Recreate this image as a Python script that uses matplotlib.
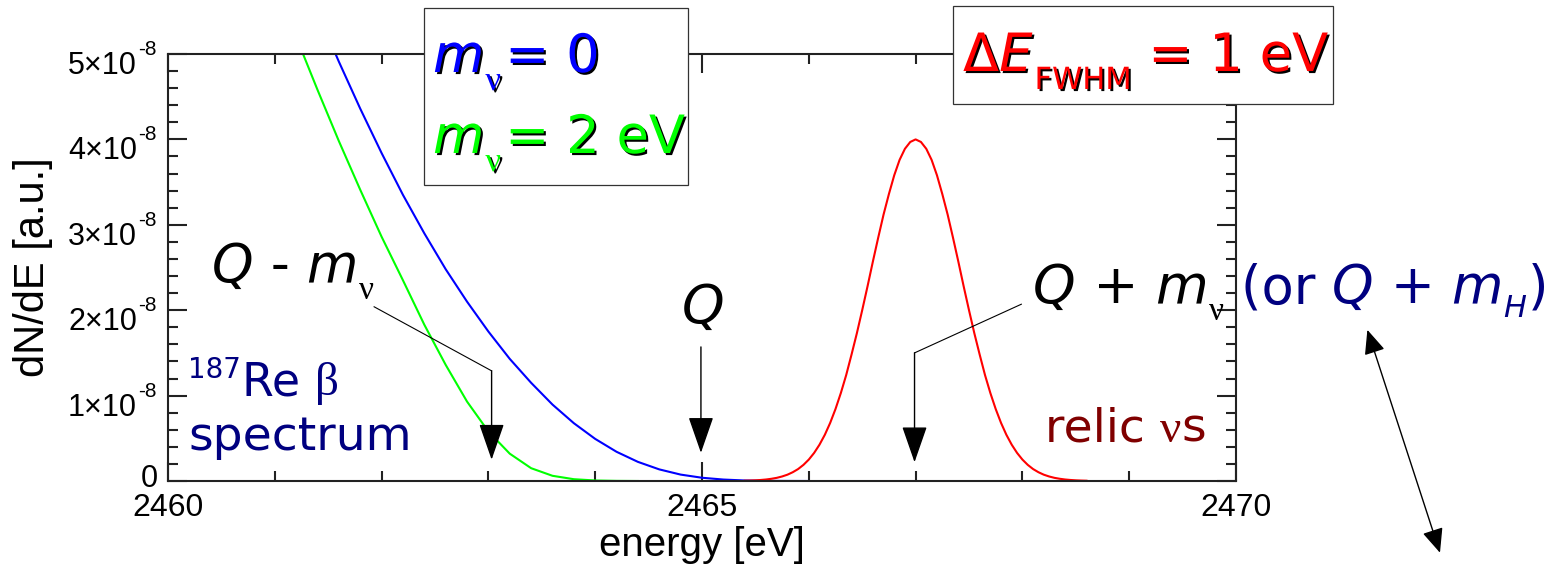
import numpy as np
import matplotlib.pyplot as plt
import matplotlib.patheffects as pe
from matplotlib.patches import Rectangle, ArrowStyle
from matplotlib.transforms import IdentityTransform

W, H = 1553, 566

# beta spectrum near the endpoint, m_nu = 0 (blue)
energy_blue = [2461.4, 2461.6, 2461.8, 2462.0, 2462.2, 2462.4, 2462.6, 2462.8,
               2463.0, 2463.2, 2463.4, 2463.6, 2463.8, 2464.0, 2464.2, 2464.4,
               2464.6, 2464.8, 2465.0, 2465.2, 2465.4, 2465.6, 2465.8, 2466.0]
dnde_blue = np.array([5.49, 4.91, 4.36, 3.84, 3.35, 2.90, 2.48, 2.10,
                      1.75, 1.43, 1.15, 0.895, 0.677, 0.493, 0.342, 0.224,
                      0.136, 0.075, 0.038, 0.017, 0.006, 0.002, 0.0006, 0.0]) * 1e-8

# m_nu = 2 eV (green)
energy_green = [2461.0, 2461.2, 2461.4, 2461.6, 2461.8, 2462.0, 2462.2, 2462.4, 2462.6,
                2462.8, 2463.0, 2463.2, 2463.4, 2463.6, 2463.8, 2464.0, 2464.2, 2464.4]
dnde_green = np.array([5.86, 5.20, 4.58, 3.98, 3.41, 2.86, 2.35, 1.83, 1.36,
                       0.93, 0.58, 0.32, 0.15, 0.061, 0.021, 0.006, 0.0015, 0.0]) * 1e-8

# relic neutrino peak (red)
energy_red = [2465.40, 2465.45, 2465.50, 2465.55, 2465.60, 2465.65, 2465.70, 2465.75,
              2465.80, 2465.85, 2465.90, 2465.95, 2466.00, 2466.05, 2466.10, 2466.15,
              2466.20, 2466.25, 2466.30, 2466.35, 2466.40, 2466.45, 2466.50, 2466.55,
              2466.60, 2466.65, 2466.70, 2466.75, 2466.80, 2466.85, 2466.90, 2466.95,
              2467.00, 2467.05, 2467.10, 2467.15, 2467.20, 2467.25, 2467.30, 2467.35,
              2467.40, 2467.45, 2467.50, 2467.55, 2467.60, 2467.65, 2467.70, 2467.75,
              2467.80, 2467.85, 2467.90, 2467.95, 2468.00, 2468.05, 2468.10, 2468.15,
              2468.20, 2468.25, 2468.30, 2468.35, 2468.40, 2468.45, 2468.50, 2468.55,
              2468.60]
dnde_red = np.array([0.0034, 0.0052, 0.0079, 0.012, 0.0176, 0.026, 0.037, 0.053,
                     0.074, 0.103, 0.140, 0.189, 0.251, 0.329, 0.425, 0.541,
                     0.68, 0.843, 1.03, 1.24, 1.48, 1.73, 2.00, 2.28,
                     2.57, 2.85, 3.12, 3.36, 3.58, 3.76, 3.89, 3.97,
                     4.00, 3.97, 3.89, 3.76, 3.58, 3.36, 3.12, 2.85,
                     2.57, 2.28, 2.00, 1.73, 1.48, 1.24, 1.03, 0.843,
                     0.68, 0.541, 0.425, 0.329, 0.251, 0.189, 0.140, 0.103,
                     0.074, 0.053, 0.037, 0.026, 0.0176, 0.012, 0.0079, 0.0052,
                     0.0034]) * 1e-8

xticks = [2460, 2465, 2470]
xminor = [2461, 2462, 2463, 2464, 2466, 2467, 2468, 2469]
yticks = [0, 1e-8, 2e-8, 3e-8, 4e-8, 5e-8]
ymant = ['0', '1×10', '2×10', '3×10', '4×10', '5×10']
yexp = ['', '-8', '-8', '-8', '-8', '-8']
yminor = [k * 0.2e-8 for k in range(26) if k % 5]

plt.rcParams['font.family'] = 'Liberation Sans'

fig = plt.figure(figsize=(W / 100, H / 100), dpi=100)
ax = fig.add_axes([168 / W, 1 - 481 / H, (1236 - 168) / W, (481 - 54) / H])

ax.plot(energy_green, dnde_green, color='#00ff00', lw=1.5)
ax.plot(energy_blue, dnde_blue, color='#0000ff', lw=1.5)
ax.plot(energy_red, dnde_red, color='#ff0000', lw=1.5)

ax.set_xlim(2460, 2470)
ax.set_ylim(0, 5e-8)
ax.set_xticks(xticks)
ax.set_xticks(xminor, minor=True)
ax.set_yticks(yticks, [])
ax.set_yticks(yminor, minor=True)
ax.tick_params(which='both', direction='in', top=True, right=True, width=1.5, color='#222')
ax.tick_params(which='major', length=14)
ax.tick_params(which='minor', length=7)
ax.tick_params(axis='x', labelsize=23, pad=9)
for s in ax.spines.values():
    s.set_linewidth(1.5)
    s.set_color('#222')
ax.set_xlabel('energy [eV]', fontsize=29, labelpad=2)
ax.set_ylabel('dN/dE [a.u.]', fontsize=30)
ax.yaxis.set_label_coords((53 - 168) / (1236 - 168), 0.5)

# y tick labels in the "5x10^-8" style, hung just below each tick
for v, m, e in zip(yticks, ymant, yexp):
    yd = ax.transData.transform((2460, v))[1]
    if e:
        fig.text(137, yd - 20, m, transform=IdentityTransform(), ha='right', va='baseline',
                 fontsize=22)
        fig.text(138, yd - 1, e, transform=IdentityTransform(), ha='left', va='baseline',
                 fontsize=15)
    else:
        fig.text(158, yd - 6, m, transform=IdentityTransform(), ha='right', va='baseline',
                 fontsize=22)

# pointer arrows
head = ArrowStyle('-|>', head_length=23, head_width=8)
arrow_kw = dict(arrowstyle=head, mutation_scale=1, lw=1.0, color='k', shrinkA=0, shrinkB=0)
ax.plot([2461.93, 2463.03], [2.04e-8, 1.29e-8], color='k', lw=0.8)
ax.annotate('', xy=(2463.03, 0.25e-8), xytext=(2463.03, 1.29e-8), arrowprops=arrow_kw)
ax.annotate('', xy=(2464.99, 0.33e-8), xytext=(2464.99, 1.57e-8), arrowprops=arrow_kw)
ax.plot([2467.99, 2466.99], [2.07e-8, 1.50e-8], color='k', lw=0.8)
ax.annotate('', xy=(2466.99, 0.22e-8), xytext=(2466.99, 1.50e-8), arrowprops=arrow_kw)
ax.annotate('', xy=(2471.23, 1.77e-8), xytext=(2471.91, -0.84e-8), annotation_clip=False,
            arrowprops=dict(arrowstyle=ArrowStyle('<|-|>', head_length=15, head_width=6.5),
                            mutation_scale=1, lw=1.0, color='k', shrinkA=0, shrinkB=0))

# legend-like boxes
for x0, y0, x1, y1 in [(424, 8, 688, 185), (953, 6, 1333, 104)]:
    fig.add_artist(Rectangle((x0, H - y1), x1 - x0, y1 - y0, transform=IdentityTransform(),
                             facecolor='white', edgecolor='#333', lw=0.9, zorder=2))

renderer = fig.canvas.get_renderer()
shadow = [pe.withSimplePatchShadow(offset=(1.5, -1.5), shadow_rgbFace='black', alpha=1.0)]


def chain(x, y, parts, color, effects=None):
    # draw text pieces one after another on a common baseline (image pixel coords)
    for s, dx, dy, size, fam, style in parts:
        t = fig.text(x + dx, H - y - dy, s, transform=IdentityTransform(), va='baseline',
                     fontsize=size, family=fam, style=style, color=color, zorder=4)
        if effects:
            t.set_path_effects(effects)
        x = t.get_window_extent(renderer).x1


SANS, SERIF = 'DejaVu Sans', 'Liberation Serif'
chain(433, 72, [('m', 0, 0, 38, SANS, 'italic'), ('ν', 1, 18, 25, SERIF, 'normal'),
                ('= 0', 4, 0, 38, SANS, 'normal')], '#0000ff', shadow)
chain(433, 153, [('m', 0, 0, 38, SANS, 'italic'), ('ν', 1, 18, 25, SERIF, 'normal'),
                 ('= 2 eV', 4, 0, 38, SANS, 'normal')], '#00ff00', shadow)
chain(963, 71, [('Δ', 0, 0, 38, SANS, 'normal'), ('E', 0, 0, 38, SANS, 'italic'),
                ('FWHM', 2, 18, 22, SANS, 'normal'), (' = 1 eV', 0, 0, 38, SANS, 'normal')],
      '#ff0000', shadow)

chain(212, 282, [('Q', 0, 0, 38, SANS, 'italic'), (' - ', 0, 0, 38, SANS, 'normal'),
                 ('m', 0, 0, 38, SANS, 'italic'), ('ν', 1, 17, 24, SERIF, 'normal')], 'black')
chain(682, 323, [('Q', 0, 0, 39, SANS, 'italic')], 'black')
chain(1033, 303, [('Q', 0, 0, 39, SANS, 'italic'), (' + ', 0, 0, 39, SANS, 'normal'),
                  ('m', 0, 0, 39, SANS, 'italic'), ('ν', 1, 17, 24, SERIF, 'normal')], 'black')
chain(1241, 303, [('(or ', 0, 0, 38, SANS, 'normal'), ('Q', 0, 0, 38, SANS, 'italic'),
                  (' + ', 0, 0, 38, SANS, 'normal'), ('m', 0, 0, 38, SANS, 'italic'),
                  ('H', 0, 14, 22, SANS, 'italic'), (')', 2, 0, 38, SANS, 'normal')], '#000080')

chain(188, 395, [('187', 0, -17, 20, SANS, 'normal'), ('Re ', 1, 0, 33, SANS, 'normal'),
                 ('β', 0, 0, 34, SERIF, 'normal')], '#000080')
chain(188, 450, [('spectrum', 0, 0, 34, SANS, 'normal')], '#000080')
chain(1045, 442, [('relic ', 0, 0, 34, SANS, 'normal'), ('ν', 0, 0, 34, SERIF, 'normal'),
                  ('s', 0, 0, 34, SANS, 'normal')], '#800000')

fig.savefig('out.png', dpi=100)
